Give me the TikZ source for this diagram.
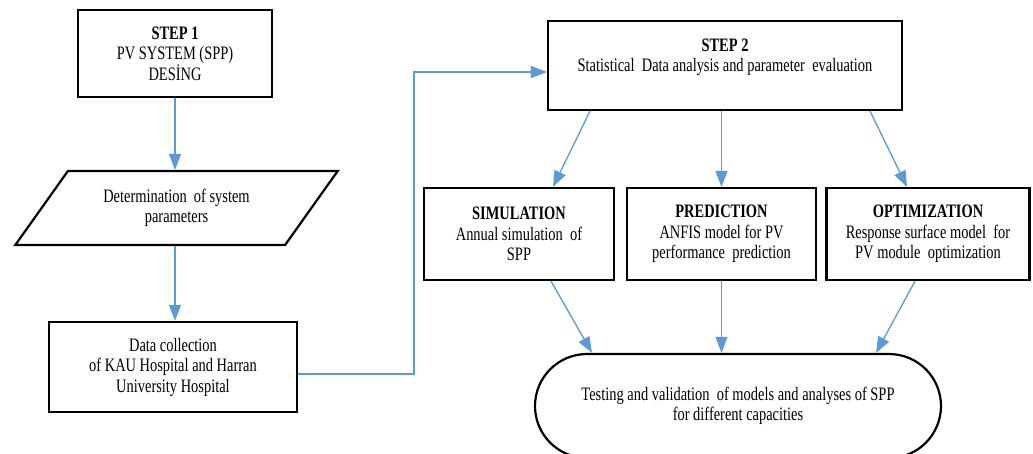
\documentclass[tikz,border=0pt]{standalone}
\usepackage{fontspec}
\setmainfont{Liberation Serif}[FakeStretch=0.76]
\usetikzlibrary{arrows.meta,shapes.geometric,shapes.misc}
\definecolor{flowblue}{RGB}{91,155,213}
\tikzset{
    box/.style={draw, line width=2.2pt, align=center, inner sep=2pt},
    flow/.style={draw=flowblue, line width=1.3pt, -{Triangle[length=16pt,width=12pt]}},
}
\begin{document}
\begin{tikzpicture}[x=1pt, y=-1pt, font=\fontsize{19}{20.5}\selectfont]
    \useasboundingbox (0,0) rectangle (1033,453);

    % 第一步
    \node[box, minimum width=194pt, minimum height=87pt] (step1) at (175, 53.5)
        {\textbf{STEP 1}\\PV SYSTEM (SPP)\\DESİNG};
    \node[box, trapezium, trapezium left angle=49, trapezium right angle=131,
          trapezium stretches=true, minimum width=323pt, minimum height=74pt] (param) at (176.5, 208)
        {Determination\ \ of system\\parameters};
    \node[box, minimum width=248pt, minimum height=90pt] (data) at (173, 367)
        {Data collection\\of KAU Hospital and Harran\\University Hospital};

    % 第二步
    \node[box, minimum width=354pt, minimum height=89pt] (step2) at (725, 65.5)
        {\textbf{STEP 2}\\Statistical\ \ Data analysis and parameter\ \ evaluation\\\mbox{}};
    \node[box, minimum width=190pt, minimum height=92pt] (sim) at (519, 234)
        {\textbf{SIMULATION}\\Annual simulation\ \ of\\SPP};
    \node[box, minimum width=189pt, minimum height=92pt] (pred) at (721.5, 234)
        {\textbf{PREDICTION}\\ANFIS model for PV\\performance\ \ prediction};
    \node[box, minimum width=203pt, minimum height=92pt] (opt) at (928, 234)
        {\textbf{OPTIMIZATION}\\Response surface model\ \ for\\PV module\ \ optimization};

    % 结果
    \node[box, rounded rectangle, minimum width=410pt, minimum height=104pt] (test) at (738, 406)
        {Testing and validation\ \ of models and analyses of SPP\\for different capacities};

    % 箭头
    \draw[flow] (step1.south) -- (step1.south |- param.north);
    \draw[flow] (step1.south |- param.south) -- (step1.south |- data.north);
    \draw[flow] ([yshift=-7pt]data.east) -- ++(116,0) |- ([yshift=-6.5pt]step2.west);

    \draw[flow] ([xshift=-135pt]step2.south) -- ([xshift=34pt]sim.north);
    \draw[flow] (pred.north |- step2.south) -- (pred.north);
    \draw[flow] ([xshift=145pt]step2.south) -- ([xshift=-21pt]opt.north);

    \draw[flow] ([xshift=32pt]sim.south) -- ([xshift=-146pt]test.north);
    \draw[flow] (pred.south) -- (pred.south |- test.north);
    \draw[flow] ([xshift=-13pt]opt.south) -- ([xshift=138pt]test.north);
\end{tikzpicture}
\end{document}
